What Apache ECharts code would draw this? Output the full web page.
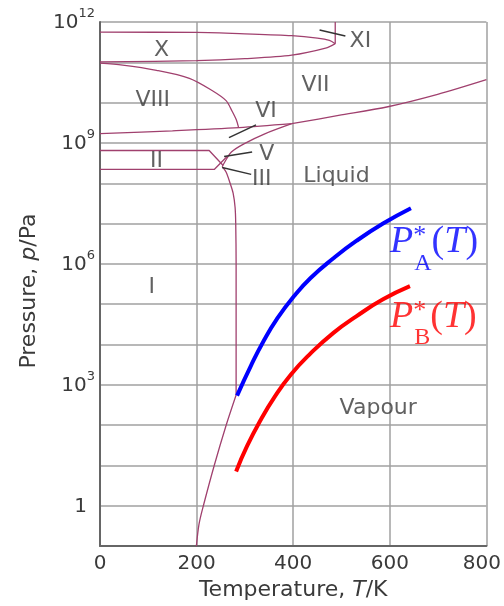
<!DOCTYPE html>
<html><head><meta charset="utf-8">
<script src="https://cdn.jsdelivr.net/npm/echarts@6/dist/echarts.min.js"></script>
<style>html,body{margin:0;padding:0;background:#fff}#c{width:504px;height:606px}</style>
</head><body><div id="c"></div>
<script>
// ---- tick labels ----
const xTicks = [0, 200, 400, 600, 800];
const yLabelExponents = [0, 3, 6, 9, 12];

// ---- phase boundaries: [T / K, p / Pa] ----
const sublimation = [[199.5, 0.1], [205, 0.35], [214, 1], [236.5, 10], [261, 98], [281.8, 560]];
const meltingLower = [[281.8, 560], [281.8, 1e6], [281, 1e7], [279.7, 2.5e7], [275.6, 5.7e7], [269.4, 1.0e8], [261, 1.9e8], [253, 2.6e8]];
const meltingUpper = [[253, 2.6e8], [262, 4.0e8], [272, 6.0e8], [298, 9.5e8], [340, 1.66e9], [397, 3.0e9]];
const liquidVII = [[397, 3.0e9], [494, 4.8e9], [596, 7.9e9], [699, 1.6e10], [800, 3.7e10]];
const boundaryVI_VIII = [[0, 1.7e9], [150, 2.0e9], [288, 2.4e9], [397, 3.0e9]];
const boundaryVIII_VII = [[0, 9.5e10], [47, 8.5e10], [117, 6.3e10], [185, 4.0e10], [232, 2.0e10], [261, 1.12e10], [273, 6.3e9], [282, 3.8e9], [287, 2.4e9]];
const boundaryXUpper = [[0, 5.6e11], [200, 5.5e11], [300, 5.1e11], [397, 4.6e11], [450, 4.0e11], [475, 3.5e11], [487, 2.9e11]];
const boundaryXLower = [[487, 2.9e11], [467, 2.24e11], [397, 1.5e11], [300, 1.23e11], [200, 1.1e11], [0, 1.02e11]];
const boundaryXI = [[487, 2.9e11], [487, 1e12]];
const boundaryIIUpper = [[0, 6.5e8], [226, 6.5e8], [255, 2.75e8]];
const boundaryIILower = [[0, 2.2e8], [236.5, 2.2e8], [263, 4.6e8]];

// ---- leader lines for small-region labels ----
const leaderXI = [[454.6, 6.3e11], [508, 4.5e11]];
const leaderVI = [[267, 1.35e9], [323, 2.8e9]];
const leaderV = [[257, 4.6e8], [315, 6.0e8]];
const leaderIII = [[253, 2.45e8], [313, 1.66e8]];

// ---- vapour pressure curves ----
const vapourA = [[283.8, 5.4e2], [312.6, 3.0e3], [339.3, 1.26e4], [366.1, 4.27e4], [401, 1.55e5], [436, 4.47e5], [483.3, 1.38e6], [530.6, 3.7e6], [586, 1.0e7], [643.7, 2.4e7]];
const vapourB = [[281.8, 7.1], [304.4, 30], [333.2, 138], [359.9, 468], [394.9, 1780], [436, 6030], [483.3, 1.95e4], [530.6, 5.0e4], [586, 1.32e5], [641.7, 2.8e5]];

// ---- region labels ----
const regionNames = ['X', 'VIII', 'VII', 'VI', 'II', 'V', 'III', 'Liquid', 'XI', 'I', 'Vapour'];
const regionT = [127.5, 109, 446, 343.5, 117, 345.5, 335, 489.5, 539, 107, 576];
const regionP = [2.0e11, 1.17e10, 2.75e10, 6.0e9, 3.5e8, 5.1e8, 1.26e8, 1.48e8, 3.4e11, 2.7e5, 2.6e2];

// ---- curve labels ----
const curveLabelSubs = ['A', 'B'];
const curveLabelT = [600.5, 600.5];
const curveLabelP = [2.3e6, 3.2e4];

const PHASE = '#a0406e';
const TEXT = '#3a3a3a';
const SANS = 'DejaVu Sans';
const SERIF = 'Liberation Serif';
const curveColors = ['#0000ff', '#ff0000'];

function boundary(data, smooth) {
  return { type: 'line', data: data, symbol: 'none', smooth: smooth, silent: true, z: 3,
    lineStyle: { color: PHASE, width: 1.3 } };
}
function leader(data) {
  return { type: 'line', data: data, symbol: 'none', silent: true, z: 4,
    lineStyle: { color: '#333', width: 1.5 } };
}
function curve(data, color) {
  return { type: 'line', data: data, symbol: 'none', smooth: 0.5, silent: true, z: 5,
    lineStyle: { color: color, width: 4, cap: 'butt' } };
}

const regionData = regionNames.map((n, i) => ({ name: n, value: [regionT[i], regionP[i]] }));

const curveLabelSeries = curveLabelSubs.map((s, i) => ({
  type: 'scatter', silent: true, z: 6, symbolSize: 1, itemStyle: { color: 'rgba(0,0,0,0)' },
  data: [{ name: s, value: [curveLabelT[i], curveLabelP[i]] }],
  label: {
    show: true, position: 'inside', align: 'left', verticalAlign: 'middle',
    formatter: '{p|P}{sup|*}{sub|' + s + '}{n|(}{p|T}{n|)}',
    rich: {
      p: { fontFamily: SERIF, fontStyle: 'italic', fontSize: 38, color: curveColors[i], lineHeight: 52, verticalAlign: 'top' },
      n: { fontFamily: SERIF, fontSize: 38, color: curveColors[i], lineHeight: 52, verticalAlign: 'top' },
      sub: { fontFamily: SERIF, fontSize: 24, color: curveColors[i], lineHeight: 29, verticalAlign: 'bottom' },
      sup: { fontFamily: SERIF, fontSize: 26, color: curveColors[i], lineHeight: 26, verticalAlign: 'top', width: 1, align: 'left' }
    }
  }
}));

const chart = echarts.init(document.getElementById('c'), null, { renderer: 'canvas' });
chart.setOption({
  animation: false,
  backgroundColor: '#fff',
  grid: { left: 100, right: 15, top: 22, bottom: 58, containLabel: false },
  xAxis: {
    type: 'value', min: xTicks[0], max: xTicks[xTicks.length - 1], interval: 200,
    name: 'Temperature, {i|T}/K', nameLocation: 'middle', nameGap: 22,
    nameTextStyle: { fontFamily: SANS, fontSize: 22, color: TEXT, verticalAlign: 'top',
      rich: { i: { fontFamily: SANS, fontSize: 22, color: TEXT, fontStyle: 'italic' } } },
    axisLine: { show: true, lineStyle: { color: '#666', width: 2 } },
    axisTick: { show: false },
    splitLine: { show: true, lineStyle: { color: '#a0a0a0', width: 1.5 } },
    axisLabel: {
      fontFamily: SANS, fontSize: 20, color: TEXT, margin: 8,
      formatter: v => (v === xTicks[xTicks.length - 1] ? '{e|' + v + '}' : String(v)),
      rich: { e: { fontFamily: SANS, fontSize: 20, color: TEXT, padding: [0, 9, 0, 0] } }
    }
  },
  yAxis: {
    type: 'log', logBase: 10, min: 0.1, max: 1e12, interval: 1, splitNumber: 13,
    name: 'Pressure, {i|p}/Pa', nameLocation: 'middle', nameGap: 60,
    nameTextStyle: { fontFamily: SANS, fontSize: 22, color: TEXT, padding: [0, 14, 0, 0],
      rich: { i: { fontFamily: SANS, fontSize: 22, color: TEXT, fontStyle: 'italic' } } },
    axisLine: { show: true, lineStyle: { color: '#666', width: 2 } },
    axisTick: { show: false },
    splitLine: { show: true, lineStyle: { color: '#a0a0a0', width: 1.5 } },
    axisLabel: {
      margin: 5, color: TEXT, fontFamily: SANS, fontSize: 20, padding: [0, 0, 4, 0],
      formatter: function (v) {
        const e = Math.round(Math.log10(v));
        if (yLabelExponents.indexOf(e) < 0) return '';
        if (e === 0) return '{b|1}{pad| }';
        return '{b|10}{s|' + e + '}';
      },
      rich: {
        b: { fontFamily: SANS, fontSize: 20, color: TEXT, lineHeight: 26, verticalAlign: 'bottom' },
        s: { fontFamily: SANS, fontSize: 13, color: TEXT, lineHeight: 26, verticalAlign: 'top' },
        pad: { fontFamily: SANS, fontSize: 13, width: 8 }
      }
    }
  },
  series: [
    boundary(sublimation, 0.3),
    boundary(meltingLower, 0.3),
    boundary(meltingUpper, 0.3),
    boundary(liquidVII, 0.3),
    boundary(boundaryVI_VIII, 0.3),
    boundary(boundaryVIII_VII, 0.3),
    boundary(boundaryXUpper, 0.3),
    boundary(boundaryXLower, 0.3),
    boundary(boundaryXI, false),
    boundary(boundaryIIUpper, false),
    boundary(boundaryIILower, false),
    leader(leaderXI), leader(leaderVI), leader(leaderV), leader(leaderIII),
    curve(vapourA, curveColors[0]),
    curve(vapourB, curveColors[1]),
    {
      type: 'scatter', silent: true, z: 6, symbolSize: 1, itemStyle: { color: 'rgba(0,0,0,0)' },
      data: regionData,
      label: { show: true, position: 'inside', formatter: '{b}', fontFamily: SANS, fontSize: 22, color: TEXT }
    }
  ].concat(curveLabelSeries)
});
</script></body></html>
